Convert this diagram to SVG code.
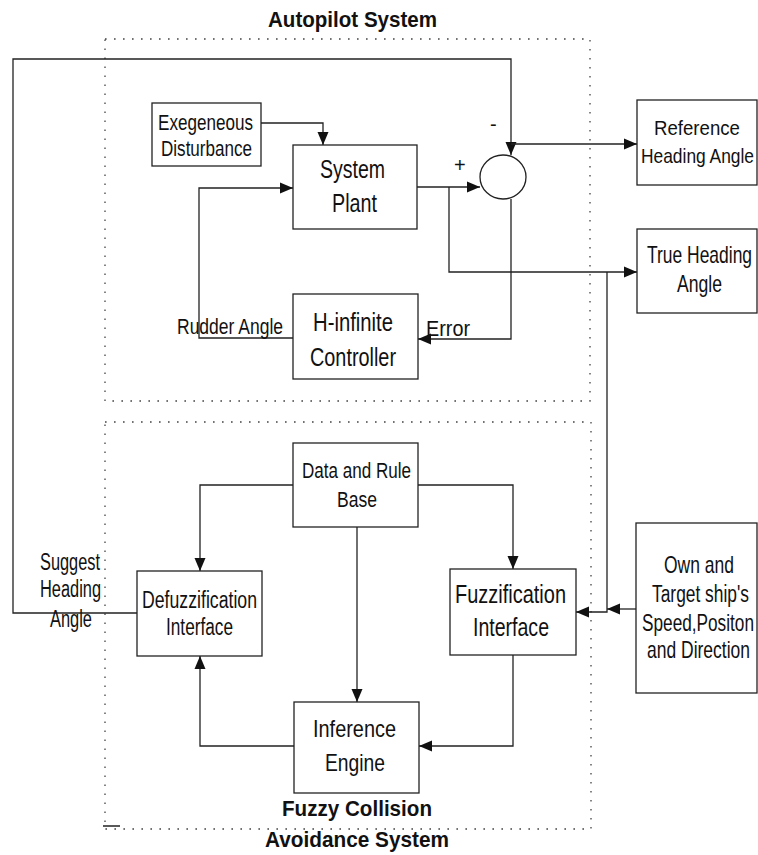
<svg xmlns="http://www.w3.org/2000/svg" width="758" height="855" viewBox="0 0 758 855">
<style>
.bg{fill:#fff}
.box{fill:#fff;stroke:#222;stroke-width:1.3}
.dot{fill:none;stroke:#444;stroke-width:1.3;stroke-dasharray:1.6 7.4}
.ln{fill:none;stroke:#222;stroke-width:1.3}
.t{font-family:"Liberation Sans",Arial,sans-serif;fill:#111}
.b{font-family:"Liberation Sans",Arial,sans-serif;font-weight:bold;fill:#111}
</style>
<defs>
<marker id="ar" markerUnits="userSpaceOnUse" markerWidth="13" markerHeight="12" viewBox="0 0 13 11" refX="13" refY="5.5" orient="auto">
<path d="M0,0 L13,5.5 L0,11 z" fill="#111"/>
</marker>
</defs>
<rect class="bg" width="758" height="855"/>

<g id="groups">
<rect class="dot" x="105" y="39" width="485" height="362"/>
<rect class="dot" x="105" y="422" width="486" height="407"/>
<line x1="103" y1="826" x2="120" y2="826" stroke="#222" stroke-width="1.5"/>
<text class="b" x="268" y="27" font-size="22" textLength="169" lengthAdjust="spacingAndGlyphs">Autopilot System</text>
<text class="b" x="282" y="816" font-size="22" textLength="150" lengthAdjust="spacingAndGlyphs">Fuzzy Collision</text>
<text class="b" x="265" y="847" font-size="22" textLength="184" lengthAdjust="spacingAndGlyphs">Avoidance System</text>
</g>

<g id="connectors">
<polyline class="ln" points="137,613 13,613 13,59 511,59 511,155" marker-end="url(#ar)"/>
<polyline class="ln" points="511,144 637,144" marker-end="url(#ar)"/>
<polyline class="ln" points="261,123 323,123 323,145" marker-end="url(#ar)"/>
<polyline class="ln" points="417,187 480,187" marker-end="url(#ar)"/>
<polyline class="ln" points="449,187 449,272 637,272" marker-end="url(#ar)"/>
<polyline class="ln" points="511,199 511,339 418,339" marker-end="url(#ar)"/>
<polyline class="ln" points="293,338 199,338 199,188 293,188" marker-end="url(#ar)"/>
<polyline class="ln" points="607,272 607,612 576,612" marker-end="url(#ar)"/>
<polyline class="ln" points="636,609 607,609" marker-end="url(#ar)"/>
<polyline class="ln" points="293,485 200,485 200,571" marker-end="url(#ar)"/>
<polyline class="ln" points="418,485 513,485 513,569" marker-end="url(#ar)"/>
<polyline class="ln" points="357,527 357,702" marker-end="url(#ar)"/>
<polyline class="ln" points="513,655 513,746 419,746" marker-end="url(#ar)"/>
<polyline class="ln" points="294,746 200,746 200,656" marker-end="url(#ar)"/>
<text class="t" x="454" y="172" font-size="20">+</text>
<text class="t" x="490" y="131" font-size="20">-</text>
<text class="t" x="177" y="334" font-size="22" textLength="106" lengthAdjust="spacingAndGlyphs">Rudder Angle</text>
<text class="t" x="426" y="336" font-size="22" textLength="44" lengthAdjust="spacingAndGlyphs">Error</text>
<text class="t" x="40" y="570" font-size="23" textLength="60" lengthAdjust="spacingAndGlyphs">Suggest</text>
<text class="t" x="40" y="597" font-size="23" textLength="61" lengthAdjust="spacingAndGlyphs">Heading</text>
<text class="t" x="50" y="627" font-size="23" textLength="42" lengthAdjust="spacingAndGlyphs">Angle</text>
</g>

<g id="sum">
<ellipse class="box" cx="503" cy="177" rx="23" ry="22"/>
</g>

<g id="exogenous">
<rect class="box" x="152" y="103" width="109" height="63"/>
<text class="t" x="158" y="130" font-size="22" textLength="95" lengthAdjust="spacingAndGlyphs">Exegeneous</text>
<text class="t" x="161" y="156" font-size="22" textLength="91" lengthAdjust="spacingAndGlyphs">Disturbance</text>
</g>

<g id="plant">
<rect class="box" x="293" y="145" width="124" height="84"/>
<text class="t" x="320" y="178" font-size="26" textLength="65" lengthAdjust="spacingAndGlyphs">System</text>
<text class="t" x="332" y="212" font-size="26" textLength="45" lengthAdjust="spacingAndGlyphs">Plant</text>
</g>

<g id="controller">
<rect class="box" x="293" y="294" width="125" height="85"/>
<text class="t" x="313" y="331" font-size="25" textLength="80" lengthAdjust="spacingAndGlyphs">H-infinite</text>
<text class="t" x="310" y="366" font-size="25" textLength="86" lengthAdjust="spacingAndGlyphs">Controller</text>
</g>

<g id="reference">
<rect class="box" x="637" y="100" width="120" height="85"/>
<text class="t" transform="translate(654,135) scale(0.888,1)" x="0" y="0" font-size="21" textLength="96.8" lengthAdjust="spacingAndGlyphs">Reference</text>
<text class="t" transform="translate(641,163) scale(0.82,1)" x="0" y="0" font-size="21" textLength="137.8" lengthAdjust="spacingAndGlyphs">Heading Angle</text>
</g>

<g id="trueheading">
<rect class="box" x="637" y="229" width="120" height="84"/>
<text class="t" transform="translate(647,263) scale(0.754,1)" x="0" y="0" font-size="23" textLength="139.3" lengthAdjust="spacingAndGlyphs">True Heading</text>
<text class="t" transform="translate(677,292) scale(0.765,1)" x="0" y="0" font-size="23" textLength="58.8" lengthAdjust="spacingAndGlyphs">Angle</text>
</g>

<g id="database">
<rect class="box" x="293" y="443" width="125" height="84"/>
<text class="t" x="302" y="478" font-size="22" textLength="109" lengthAdjust="spacingAndGlyphs">Data and Rule</text>
<text class="t" x="337" y="507" font-size="22" textLength="40" lengthAdjust="spacingAndGlyphs">Base</text>
</g>

<g id="defuzz">
<rect class="box" x="137" y="571" width="125" height="85"/>
<text class="t" x="142" y="608" font-size="23" textLength="115" lengthAdjust="spacingAndGlyphs">Defuzzification</text>
<text class="t" x="166" y="635" font-size="23" textLength="67" lengthAdjust="spacingAndGlyphs">Interface</text>
</g>

<g id="fuzz">
<rect class="box" x="450" y="569" width="126" height="86"/>
<text class="t" x="455" y="603" font-size="25" textLength="111" lengthAdjust="spacingAndGlyphs">Fuzzification</text>
<text class="t" x="473" y="636" font-size="25" textLength="76" lengthAdjust="spacingAndGlyphs">Interface</text>
</g>

<g id="inference">
<rect class="box" x="294" y="702" width="125" height="91"/>
<text class="t" x="313" y="737" font-size="24" textLength="83" lengthAdjust="spacingAndGlyphs">Inference</text>
<text class="t" x="325" y="771" font-size="24" textLength="60" lengthAdjust="spacingAndGlyphs">Engine</text>
</g>

<g id="ownship">
<rect class="box" x="636" y="523" width="121" height="170"/>
<text class="t" transform="translate(664,573) scale(0.76,1)" x="0" y="0" font-size="23" textLength="92.1" lengthAdjust="spacingAndGlyphs">Own and</text>
<text class="t" transform="translate(652,602) scale(0.741,1)" x="0" y="0" font-size="23" textLength="130.9" lengthAdjust="spacingAndGlyphs">Target ship's</text>
<text class="t" transform="translate(642,631) scale(0.749,1)" x="0" y="0" font-size="23" textLength="149.5" lengthAdjust="spacingAndGlyphs">Speed,Positon</text>
<text class="t" transform="translate(647,658) scale(0.76,1)" x="0" y="0" font-size="23" textLength="135.5" lengthAdjust="spacingAndGlyphs">and Direction</text>
</g>
</svg>
